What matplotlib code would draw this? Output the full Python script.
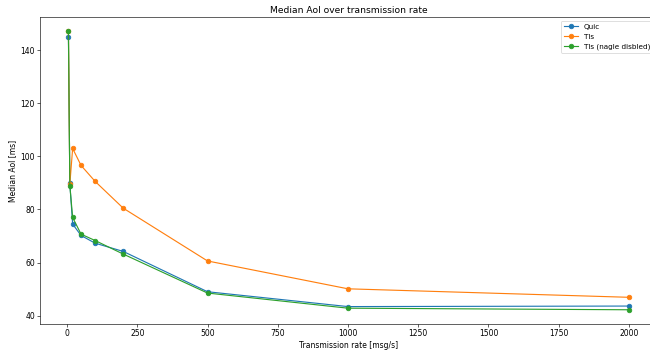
import matplotlib
matplotlib.use("Agg")
import matplotlib.pyplot as plt

rates = [5, 10, 20, 50, 100, 200, 500, 1000, 2000]
quic = [145.2, 89.8, 74.5, 70.2, 67.3, 64.2, 49.0, 43.4, 43.6]
tls = [147.2, 89.5, 103.0, 96.6, 90.6, 80.5, 60.6, 50.1, 46.9]
tls_nagle = [147.2, 89.0, 77.0, 70.7, 68.3, 63.2, 48.5, 42.8, 42.2]

fig = plt.figure(figsize=(650 / 55, 352 / 55), dpi=55)
# right edge of the axes sits just past the canvas, as in the original crop
ax = fig.add_axes([40.4 / 650, 28.3 / 352, 616.6 / 650, 306.4 / 352])
ax.plot(rates, quic, marker="o", label="Quic")
ax.plot(rates, tls, marker="o", label="Tls")
ax.plot(rates, tls_nagle, marker="o", label="Tls (nagle disbled)")
ax.set_title("Median AoI over transmission rate")
ax.set_xlabel("Transmission rate [msg/s]")
ax.set_ylabel("Median AoI [ms]")
ax.legend(loc="upper right", fontsize=9.5)
fig.savefig("out.png")
